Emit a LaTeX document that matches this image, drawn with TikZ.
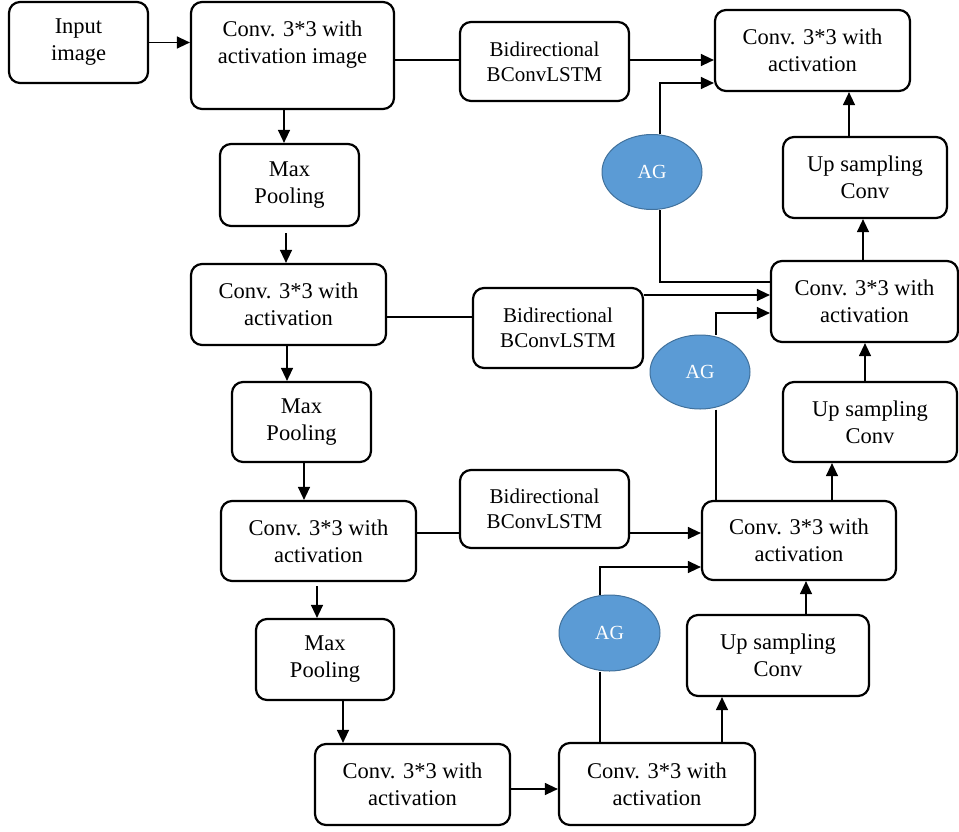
\documentclass[tikz,border=0pt]{standalone}
\usepackage{fontspec}
\setmainfont{Liberation Serif}
\usetikzlibrary{arrows.meta,shapes.geometric}
\definecolor{agblue}{HTML}{5B9BD5}
\definecolor{agborder}{HTML}{41719C}
\begin{document}
\begin{tikzpicture}[x=1pt,y=-1pt,
  box/.style={draw, line width=2.2pt, rounded corners=11pt, inner sep=0pt, align=center,
    font=\fontsize{22.5}{27}\selectfont},
  bibox/.style={box, font=\fontsize{21}{25}\selectfont},
  ag/.style={ellipse, draw=agborder, fill=agblue, line width=1pt, inner sep=0pt,
    minimum width=100pt, minimum height=75pt, text=white, font=\fontsize{20}{22}\selectfont},
  conn/.style={line width=1.3pt},
  arr/.style={conn, -{Triangle[length=13pt,width=12pt]}}]
\useasboundingbox (0,0) rectangle (959,831);
% encoder
\node[box, minimum width=139pt, minimum height=81pt] (inp) at (78.5,42.5) {Input\\image};
\node[box, minimum width=203pt, minimum height=107pt,
  label={[align=center, font=\fontsize{22.5}{27}\selectfont, yshift=10.5pt]center:{Conv. 3*3 with\\activation image}}] (c1) at (292.5,55.5) {};
\node[box, minimum width=139pt, minimum height=82pt] (mp1) at (289.5,185) {Max\\Pooling};
\node[box, minimum width=195pt, minimum height=81pt] (c2) at (288.5,304.5) {Conv. 3*3 with\\activation};
\node[box, minimum width=139pt, minimum height=80pt] (mp2) at (301.5,422) {Max\\Pooling};
\node[box, minimum width=195pt, minimum height=80pt] (c3) at (318.5,541) {Conv. 3*3 with\\activation};
\node[box, minimum width=138pt, minimum height=81pt] (mp3) at (325,659.5) {Max\\Pooling};
\node[box, minimum width=195pt, minimum height=81pt] (c4) at (412.5,784.5) {Conv. 3*3 with\\activation};
% skip
\node[bibox, minimum width=169pt, minimum height=79pt] (b1) at (544.5,61.5) {Bidirectional\\BConvLSTM};
\node[bibox, minimum width=170pt, minimum height=80pt] (b2) at (558,328) {Bidirectional\\BConvLSTM};
\node[bibox, minimum width=169pt, minimum height=78pt] (b3) at (544.5,509) {Bidirectional\\BConvLSTM};
\node[ag] (ag1) at (652,172) {AG};
\node[ag, minimum height=74pt] (ag2) at (700,372) {AG};
\node[ag, minimum width=101pt, minimum height=76pt] (ag3) at (609.5,633) {AG};
% decoder
\node[box, minimum width=196pt, minimum height=82pt] (c5) at (657,784) {Conv. 3*3 with\\activation};
\node[box, minimum width=182pt, minimum height=81pt] (up3) at (778,655.5) {Up sampling\\Conv};
\node[box, minimum width=194pt, minimum height=79pt] (r3) at (799,540.5) {Conv. 3*3 with\\activation};
\node[box, minimum width=174pt, minimum height=80pt] (up2) at (870,422) {Up sampling\\Conv};
\node[box, minimum width=187pt, minimum height=81pt] (r2) at (864.5,301.5) {Conv. 3*3 with\\activation};
\node[box, minimum width=164pt, minimum height=81pt] (up1) at (865,177.5) {Up sampling\\Conv};
\node[box, minimum width=195pt, minimum height=81pt] (r1) at (812.5,50.5) {Conv. 3*3 with\\activation};
% helper coordinates
\coordinate (xa) at (284,0);
\coordinate (xb) at (286,0);
\coordinate (xc) at (287,0);
\coordinate (xd) at (304,0);
\coordinate (xe) at (317,0);
\coordinate (xf) at (343,0);
\coordinate (xg) at (600,0);
\coordinate (xh) at (722,0);
\coordinate (xi) at (806,0);
\coordinate (xj) at (716,0);
\coordinate (xk) at (832,0);
\coordinate (xl) at (865,0);
\coordinate (xm) at (863,0);
\coordinate (xn) at (849,0);
\coordinate (xo) at (660,0);
\coordinate (ya) at (0,60);
\coordinate (yb) at (0,83);
\coordinate (yc) at (0,282);
\coordinate (yd) at (0,295);
\coordinate (ye) at (0,313);
\coordinate (yf) at (0,317);
\coordinate (yg) at (0,533);
\coordinate (yh) at (0,567);
\coordinate (yi) at (0,789);
% encoder connectors
\draw[arr] (inp.east) -- (c1.west |- inp.east);
\draw[arr] (c1.south -| xa) -- (mp1.north -| xa);
\draw[arr] ([yshift=-6pt]mp1.south -| xb) -- (c2.north -| xb);
\draw[arr] (c2.south -| xc) -- (mp2.north -| xc);
\draw[arr] (mp2.south -| xd) -- (c3.north -| xd);
\draw[arr] ([yshift=-4pt]c3.south -| xe) -- (mp3.north -| xe);
\draw[arr] (mp3.south -| xf) -- (c4.north -| xf);
\draw[arr] (c4.east |- yi) -- (c5.west |- yi);
% skip connectors
\draw[conn] (c1.east |- ya) -- (b1.west |- ya);
\draw[arr] (b1.east |- ya) -- (r1.west |- ya);
\draw[conn] (c2.east |- yf) -- (b2.west |- yf);
\draw[arr] (b2.east |- yd) -- (r2.west |- yd);
\draw[conn] (c3.east |- yg) -- (b3.west |- yg);
\draw[arr] (b3.east |- yg) -- (r3.west |- yg);
% attention gates
\draw[arr] (ag1.north -| xo) -- (xo |- yb) -- (r1.west |- yb);
\draw[conn] (ag1.south -| xo) -- (xo |- yc) -- (r2.west |- yc);
\draw[arr] (ag2.north -| xj) -- (xj |- ye) -- (r2.west |- ye);
\draw[conn] (ag2.south -| xj) -- (r3.north -| xj);
\draw[arr] (ag3.north -| xg) -- (xg |- yh) -- (r3.west |- yh);
\draw[conn] (ag3.south -| xg) -- (c5.north -| xg);
% decoder connectors
\draw[arr] (c5.north -| xh) -- (up3.south -| xh);
\draw[arr] (up3.north -| xi) -- (r3.south -| xi);
\draw[arr] (r3.north -| xk) -- (up2.south -| xk);
\draw[arr] (up2.north -| xl) -- (r2.south -| xl);
\draw[arr] (r2.north -| xm) -- (up1.south -| xm);
\draw[arr] (up1.north -| xn) -- (r1.south -| xn);
\end{tikzpicture}
\end{document}
